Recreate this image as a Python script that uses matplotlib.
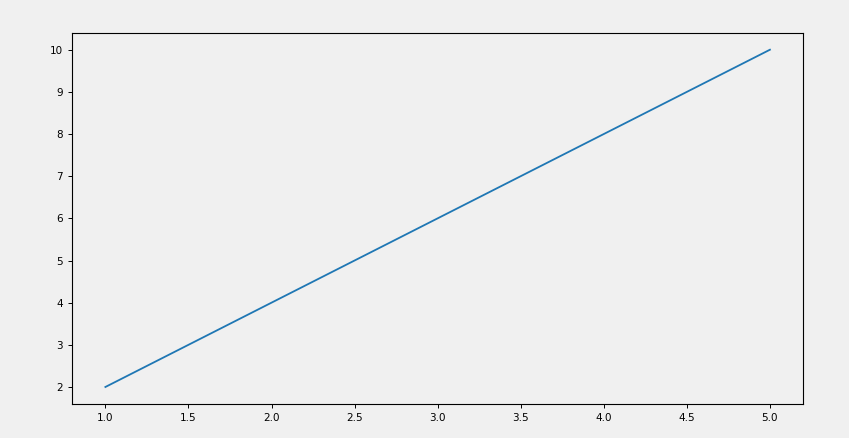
import matplotlib
matplotlib.use("Agg")
import matplotlib.pyplot as plt

x = [1, 2, 3, 4, 5]
y = [2, 4, 6, 8, 10]

bg = "#f0f0f0"
fig = plt.figure(figsize=(8.49, 4.38), dpi=100, facecolor=bg)
ax = fig.add_axes([0.085, 0.078, 0.861, 0.847], facecolor=bg)

ax.plot(x, y, color="#1f77b4", linewidth=1.3)

ax.tick_params(labelsize=7.5, length=3, width=0.7)
for s in ax.spines.values():
    s.set_linewidth(0.8)

fig.savefig("out.png", dpi=100, facecolor=bg)
